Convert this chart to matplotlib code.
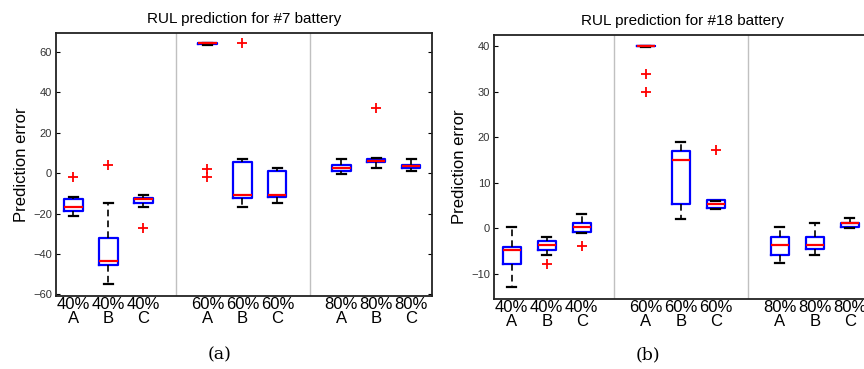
import numpy as np
import matplotlib.pyplot as plt

plt.rcParams['font.family'] = ['Liberation Sans', 'DejaVu Sans']

labels = ['40%\nA', '40%\nB', '40%\nC', '60%\nA', '60%\nB', '60%\nC', '80%\nA', '80%\nB', '80%\nC']
pos = [1, 2, 3, 4.83, 5.83, 6.83, 8.66, 9.66, 10.66]

# battery #7
b7_lo  = [-21, -55, -16.8, 63.5, -16.6, -14.6, -0.5, 2.4, 1.1]
b7_q1  = [-18.9, -45.5, -14.8, 64.0, -12.5, -11.6, 1.1, 5.3, 2.4]
b7_med = [-16.9, -43.7, -12.8, 64.3, -10.7, -10.7, 2.7, 6.2, 3.4]
b7_q3  = [-12.7, -32.3, -12.5, 64.5, 5.7, 1.1, 4.2, 6.9, 4.2]
b7_hi  = [-11.9, -14.6, -10.9, 64.5, 7.2, 2.6, 7.2, 7.7, 7.2]
b7_fl  = [[-2], [4], [-27], [2.3, -1.9], [64.3], [], [], [32.3], []]

# battery #18
b18_lo  = [-13, -5.8, -1.0, 39.85, 2.1, 4.3, -7.7, -5.8, 0.0]
b18_q1  = [-7.8, -4.9, -0.9, 40.0, 5.4, 4.35, -5.8, -4.6, 0.2]
b18_med = [-4.9, -3.7, 0.25, 40.0, 15.0, 5.2, -3.7, -3.7, 1.1]
b18_q3  = [-4.1, -2.9, 1.05, 40.1, 16.9, 6.2, -1.9, -2.0, 1.2]
b18_hi  = [0.2, -1.9, 3.1, 40.1, 19.0, 6.0, 0.25, 1.2, 2.15]
b18_fl  = [[], [-7.8], [-3.85], [33.9, 30], [], [17.1], [], [], []]


def stats(lo, q1, med, q3, hi, fl):
    return [dict(whislo=lo[i], q1=q1[i], med=med[i], q3=q3[i], whishi=hi[i],
                 fliers=fl[i]) for i in range(len(lo))]


def draw(ax, st, title, yticks, ylim):
    ax.bxp(st, positions=pos, widths=0.52, capwidths=0.26,
           boxprops=dict(color='#0000ff', lw=1.6),
           medianprops=dict(color='#ff0000', lw=1.6),
           whiskerprops=dict(color='black', lw=1.2, linestyle=(0, (4, 2.5))),
           capprops=dict(color='black', lw=1.6),
           flierprops=dict(marker='+', markeredgecolor='red', markersize=7, markeredgewidth=1.3))
    for s in [3.92, 7.75]:
        ax.axvline(s, color='#c0c0c0', lw=1)
    ax.set_xlim(0.5, 11.25)
    ax.set_ylim(*ylim)
    ax.set_yticks(yticks)
    ax.set_xticks(pos)
    ax.set_xticklabels(labels, fontsize=12, linespacing=0.9)
    ax.tick_params(axis='x', length=0, pad=1)
    ax.tick_params(axis='y', direction='in', labelsize=8, length=3, right=True,
                   labelcolor='#333333', pad=3)
    for sp in ax.spines.values():
        sp.set_linewidth(1.3)
        sp.set_color('#222222')
    ax.set_ylabel('Prediction error', fontsize=12, labelpad=3)
    ax.set_title(title, fontsize=11, pad=7)


fig = plt.figure(figsize=(8.64, 3.69), dpi=100)
ax1 = fig.add_axes([0.0648, 0.1986, 0.4352, 0.7128])
ax2 = fig.add_axes([0.5721, 0.1905, 0.4352, 0.7155])

draw(ax1, stats(b7_lo, b7_q1, b7_med, b7_q3, b7_hi, b7_fl),
     'RUL prediction for #7 battery', np.arange(-60, 61, 20), (-60.7, 69.6))
draw(ax2, stats(b18_lo, b18_q1, b18_med, b18_q3, b18_hi, b18_fl),
     'RUL prediction for #18 battery', np.arange(-10, 41, 10), (-15.5, 42.5))

fig.text(220 / 864, 1 - 355 / 369, '(a)', ha='center', va='center',
         fontsize=12.5, family='DejaVu Serif')
fig.text(648 / 864, 1 - 355 / 369, '(b)', ha='center', va='center',
         fontsize=12.5, family='DejaVu Serif')

fig.savefig('out.png', dpi=100)
